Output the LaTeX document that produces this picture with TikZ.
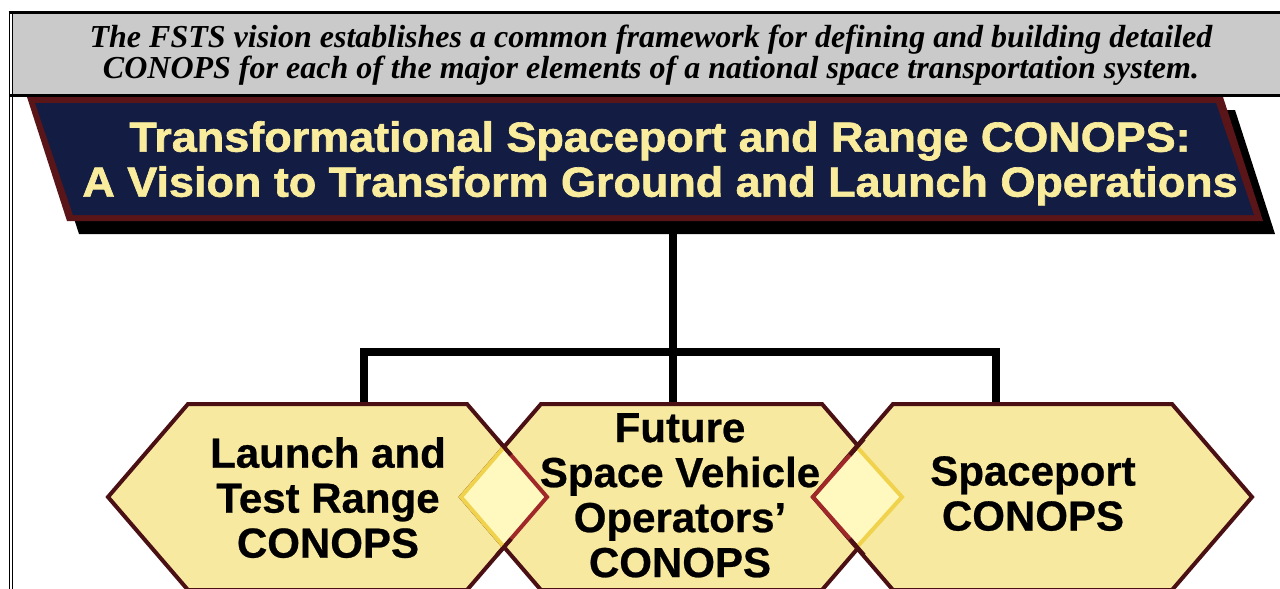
\documentclass[tikz,border=0pt]{standalone}
\usepackage{fontspec}
\setmainfont{Liberation Serif}
\setsansfont{Liberation Sans}
\newfontfamily\banfont{Liberation Sans Bold}[FakeStretch=1.07,FakeBold=1.6]
\newfontfamily\hexfont{Liberation Sans Bold}[FakeBold=0.6]
\definecolor{hdrgray}{HTML}{CACACA}
\definecolor{navy}{HTML}{131C42}
\definecolor{maroon}{HTML}{5A1519}
\definecolor{bantext}{HTML}{F9EC9C}
\definecolor{hexfill}{HTML}{F8E9A1}
\definecolor{hexline}{HTML}{4A1014}
\definecolor{diafill}{HTML}{FFF9C0}
\definecolor{diared}{HTML}{A02828}
\definecolor{diagold}{HTML}{F0D24C}
\tikzset{
  hexbox/.style={fill=hexfill, draw=hexline, line width=4pt, line join=miter},
  hextext/.style={font=\hexfont\fontsize{42}{45}\selectfont, align=center, inner sep=0pt, text=black},
  bantitle/.style={font=\banfont\fontsize{42}{45}\selectfont, align=center, inner sep=0pt, text=bantext},
  hdrtext/.style={font=\rmfamily\bfseries\itshape\fontsize{32}{31}\selectfont, align=center, inner sep=0pt},
  conn/.style={draw=black, line width=7.5pt},
  frameline/.style={draw=black, line width=1.2pt}
}
\begin{document}
\begin{tikzpicture}[x=1pt,y=-1pt]
\useasboundingbox (0,0) rectangle (1280,589);
\clip (0,0) rectangle (1280,589);
\fill[white] (0,0) rectangle (1280,589);
% header
\fill[hdrgray] (13,14) rectangle (1280,94);
\draw[frameline] (9.5,11) -- (9.5,589);
\draw[frameline] (12.5,14) -- (12.5,589);
\draw[black, line width=3pt] (8.5,12.5) -- (1280,12.5);
\draw[black, line width=3pt] (9,95.5) -- (1280,95.5);
\node[hdrtext, anchor=north] (hdr) at (651,25)
  {The FSTS vision establishes a common framework for defining and building detailed\\
   CONOPS for each of the major elements of a national space transportation system.};
% banner
\fill[black] (39,110) -- (1235,110) -- (1275,234) -- (79,234) -- cycle;
\fill[maroon] (27,97) -- (1223,97) -- (1263,221) -- (67,221) -- cycle;
\fill[navy] (35,103) -- (1216,103) -- (1254,215) -- (73,215) -- cycle;
\node[bantitle, anchor=north] (banner) at (660,121)
  {Transformational Spaceport and Range CONOPS:\\
   A Vision to Transform Ground and Launch Operations};
% connectors
\coordinate (bannerbot) at (673,226);
\coordinate (jl) at (364,352);
\coordinate (jr) at (996,352);
\coordinate (ltop) at (364,406);
\coordinate (mtop) at (673,406);
\coordinate (rtop) at (996,406);
\draw[conn] (bannerbot) -- (mtop);
\draw[conn, line join=miter] (ltop) -- (jl) -- (jr) -- (rtop);
% hexagons
\draw[hexbox] (108,497) -- (188,404) -- (467,404) -- (547,497) -- (467,590) -- (188,590) -- cycle;
\draw[hexbox] (461,497) -- (541,404) -- (822,404) -- (902,497) -- (822,590) -- (541,590) -- cycle;
\draw[hexbox] (813,497) -- (893,404) -- (1172,404) -- (1252,497) -- (1172,590) -- (893,590) -- cycle;
% overlap diamonds
\fill[diafill] (504,447) -- (547,497) -- (504,547) -- (461,497) -- cycle;
\draw[diared, line width=4pt, line join=miter] (504,447) -- (547,497) -- (504,547);
\draw[diagold, line width=4pt, line join=miter] (504,447) -- (461,497) -- (504,547);
\draw[hexline, line width=4pt] (497,439) -- (511,455);
\draw[hexline, line width=4pt] (497,555) -- (511,539);
\fill[diafill] (857,447) -- (902,497) -- (857,547) -- (813,497) -- cycle;
\draw[diared, line width=4pt, line join=miter] (857,447) -- (813,497) -- (857,547);
\draw[diagold, line width=4pt, line join=miter] (857,447) -- (902,497) -- (857,547);
\draw[hexline, line width=4pt] (864,439) -- (850,455);
\draw[hexline, line width=4pt] (864,555) -- (850,539);
% texts
\node[hextext, anchor=north] (lhex) at (328,437) {Launch and\\Test Range\\CONOPS};
\node[hextext, anchor=north] (mhex) at (680,413) {Future\\Space Vehicle\\Operators’\\CONOPS};
\node[hextext, anchor=north] (rhex) at (1033,456) {Spaceport\\CONOPS};
\end{tikzpicture}
\end{document}
